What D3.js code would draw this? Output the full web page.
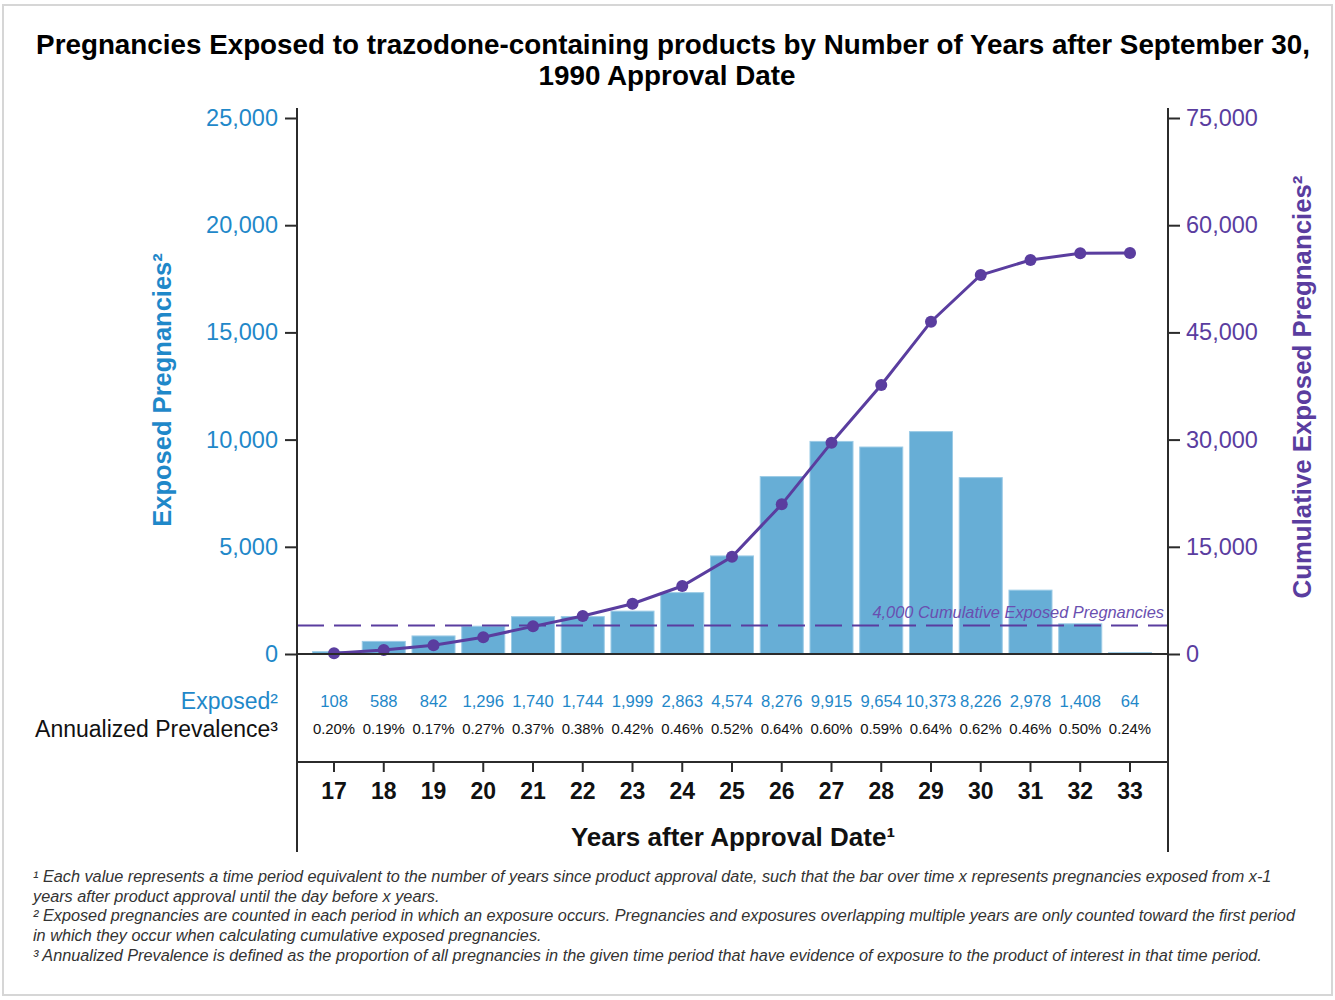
<!DOCTYPE html>
<html>
<head>
<meta charset="utf-8">
<script src="https://cdn.jsdelivr.net/npm/d3@7"></script>
<style>
  html, body { margin: 0; padding: 0; background: #fff; }
  svg { display: block; font-family: "Liberation Sans", Arial, sans-serif; }
</style>
</head>
<body>
<svg id="chart" width="1335" height="1000"></svg>
<script>
// Years after approval (one bar per period)
const years = [17, 18, 19, 20, 21, 22, 23, 24, 25, 26, 27, 28, 29, 30, 31, 32, 33];
// Exposed pregnancies per period
const exposed = [108, 588, 842, 1296, 1740, 1744, 1999, 2863, 4574, 8276, 9915, 9654, 10373, 8226, 2978, 1408, 64];
// Annualized prevalence per period
const prevalence = ["0.20%", "0.19%", "0.17%", "0.27%", "0.37%", "0.38%", "0.42%", "0.46%", "0.52%", "0.64%", "0.60%", "0.59%", "0.64%", "0.62%", "0.46%", "0.50%", "0.24%"];
// Cumulative exposed pregnancies (overlaps counted once)
const cumulative = [108, 560, 1220, 2340, 3870, 5310, 7040, 9510, 13610, 20940, 29570, 37640, 46500, 53030, 55130, 56070, 56100];
// Axis ticks
const leftTicks = [0, 5000, 10000, 15000, 20000, 25000];
const rightTicks = [0, 15000, 30000, 45000, 60000, 75000];
const threshold = 4000;

const footnotes = [
  "¹ Each value represents a time period equivalent to the number of years since product approval date, such that the bar over time x represents pregnancies exposed from x-1",
  "years after product approval until the day before x years.",
  "² Exposed pregnancies are counted in each period in which an exposure occurs. Pregnancies and exposures overlapping multiple years are only counted toward the first period",
  "in which they occur when calculating cumulative exposed pregnancies.",
  "³ Annualized Prevalence is defined as the proportion of all pregnancies in the given time period that have evidence of exposure to the product of interest in that time period."
];

const BLUE_BAR = "#67aed6";
const BLUE_TXT = "#1f88c9";
const PURPLE = "#5a3d9f";
const AXIS = "#2b2b2b";

const svg = d3.select("#chart");

// page frame
svg.append("rect").attr("x", 3).attr("y", 5).attr("width", 1329).attr("height", 990)
  .attr("fill", "none").attr("stroke", "#d6d6d6").attr("stroke-width", 2);

const plotLeft = 297, plotRight = 1168, plotTop = 118, zeroY = 654;

const x = d3.scaleBand().domain(years).range([312.5, 1151.5]).paddingInner(0.135).paddingOuter(0);
const yL = d3.scaleLinear().domain([0, 25000]).range([zeroY, plotTop]);
const yR = d3.scaleLinear().domain([0, 75000]).range([zeroY, plotTop]);

// title
const title = svg.append("text").attr("text-anchor", "middle").attr("font-weight", "bold")
  .attr("font-size", 27.8).attr("fill", "#000");
title.append("tspan").attr("x", 673).attr("y", 54)
  .text("Pregnancies Exposed to trazodone-containing products by Number of Years after September 30,");
title.append("tspan").attr("x", 667).attr("y", 85).text("1990 Approval Date");

// bars
svg.append("g").selectAll("rect").data(years).join("rect")
  .attr("x", d => x(d))
  .attr("width", x.bandwidth())
  .attr("y", (d, i) => yL(exposed[i]))
  .attr("height", (d, i) => zeroY - yL(exposed[i]))
  .attr("fill", BLUE_BAR).attr("stroke", "#9ccbe6").attr("stroke-width", 1);

// threshold dashed line
svg.append("line").attr("x1", plotLeft).attr("x2", plotRight)
  .attr("y1", yR(threshold)).attr("y2", yR(threshold))
  .attr("stroke", PURPLE).attr("stroke-width", 2).attr("stroke-dasharray", "27,10");
svg.append("text").attr("x", 1164).attr("y", yR(threshold) - 7).attr("text-anchor", "end")
  .attr("font-style", "italic").attr("font-size", 16.4).attr("fill", "#6a4fb0")
  .text("4,000 Cumulative Exposed Pregnancies");

// cumulative line
const cx = d => x(d) + x.bandwidth() / 2;
svg.append("path").datum(years)
  .attr("d", d3.line().x(d => cx(d)).y((d, i) => yR(cumulative[i])))
  .attr("fill", "none").attr("stroke", PURPLE).attr("stroke-width", 3);
svg.append("g").selectAll("circle").data(years).join("circle")
  .attr("cx", d => cx(d)).attr("cy", (d, i) => yR(cumulative[i])).attr("r", 6)
  .attr("fill", PURPLE);

// left axis
const gL = svg.append("g").attr("transform", `translate(${plotLeft},0)`)
  .call(d3.axisLeft(yL).tickValues(leftTicks).tickFormat(d3.format(",")).tickSize(12).tickPadding(7));
gL.select(".domain").remove();
gL.selectAll(".tick line").attr("stroke", AXIS).attr("stroke-width", 2);
gL.selectAll(".tick text").attr("fill", BLUE_TXT).attr("font-size", 23.5).attr("font-family", "Liberation Sans, Arial, sans-serif");

// right axis
const gR = svg.append("g").attr("transform", `translate(${plotRight},0)`)
  .call(d3.axisRight(yR).tickValues(rightTicks).tickFormat(d3.format(",")).tickSize(12).tickPadding(6));
gR.select(".domain").remove();
gR.selectAll(".tick line").attr("stroke", AXIS).attr("stroke-width", 2);
gR.selectAll(".tick text").attr("fill", PURPLE).attr("font-size", 23.5).attr("font-family", "Liberation Sans, Arial, sans-serif");

// frame lines
svg.append("line").attr("x1", plotLeft).attr("x2", plotLeft).attr("y1", 108).attr("y2", 852)
  .attr("stroke", AXIS).attr("stroke-width", 2);
svg.append("line").attr("x1", plotRight).attr("x2", plotRight).attr("y1", 108).attr("y2", 852)
  .attr("stroke", AXIS).attr("stroke-width", 2);
svg.append("line").attr("x1", plotLeft).attr("x2", plotRight).attr("y1", zeroY).attr("y2", zeroY)
  .attr("stroke", AXIS).attr("stroke-width", 2);

// axis titles
svg.append("text").attr("transform", "translate(171,390) rotate(-90)").attr("text-anchor", "middle")
  .attr("font-weight", "bold").attr("font-size", 25.5).attr("fill", BLUE_TXT)
  .text("Exposed Pregnancies²");
svg.append("text").attr("transform", "translate(1311,387) rotate(-90)").attr("text-anchor", "middle")
  .attr("font-weight", "bold").attr("font-size", 25.8).attr("fill", PURPLE)
  .text("Cumulative Exposed Pregnancies²");

// table rows
svg.append("text").attr("x", 278).attr("y", 709).attr("text-anchor", "end")
  .attr("font-size", 23).attr("fill", BLUE_TXT).text("Exposed²");
svg.append("text").attr("x", 278).attr("y", 737).attr("text-anchor", "end")
  .attr("font-size", 23).attr("fill", "#111").text("Annualized Prevalence³");

svg.append("g").selectAll("text").data(years).join("text")
  .attr("x", d => cx(d)).attr("y", 707).attr("text-anchor", "middle")
  .attr("font-size", 16.6).attr("fill", BLUE_TXT)
  .text((d, i) => d3.format(",")(exposed[i]));
svg.append("g").selectAll("text").data(years).join("text")
  .attr("x", d => cx(d)).attr("y", 734).attr("text-anchor", "middle")
  .attr("font-size", 14.9).attr("fill", "#111")
  .text((d, i) => prevalence[i]);

// bottom category axis
const gB = svg.append("g").attr("transform", "translate(0,762)")
  .call(d3.axisBottom(x).tickSize(10).tickPadding(11));
gB.select(".domain").remove();
gB.selectAll(".tick line").attr("stroke", AXIS).attr("stroke-width", 2);
gB.selectAll(".tick text").attr("fill", "#111").attr("font-size", 23).attr("font-weight", "bold")
  .attr("font-family", "Liberation Sans, Arial, sans-serif");
svg.append("line").attr("x1", plotLeft).attr("x2", plotRight).attr("y1", 762).attr("y2", 762)
  .attr("stroke", AXIS).attr("stroke-width", 2);

svg.append("text").attr("x", 733).attr("y", 846).attr("text-anchor", "middle")
  .attr("font-weight", "bold").attr("font-size", 26).attr("fill", "#111")
  .text("Years after Approval Date¹");

// footnotes
svg.append("g").selectAll("text").data(footnotes).join("text")
  .attr("x", 33).attr("y", (d, i) => 882 + i * 19.7)
  .attr("font-style", "italic").attr("font-size", 16.25).attr("fill", "#333")
  .text(d => d);
</script>
</body>
</html>
